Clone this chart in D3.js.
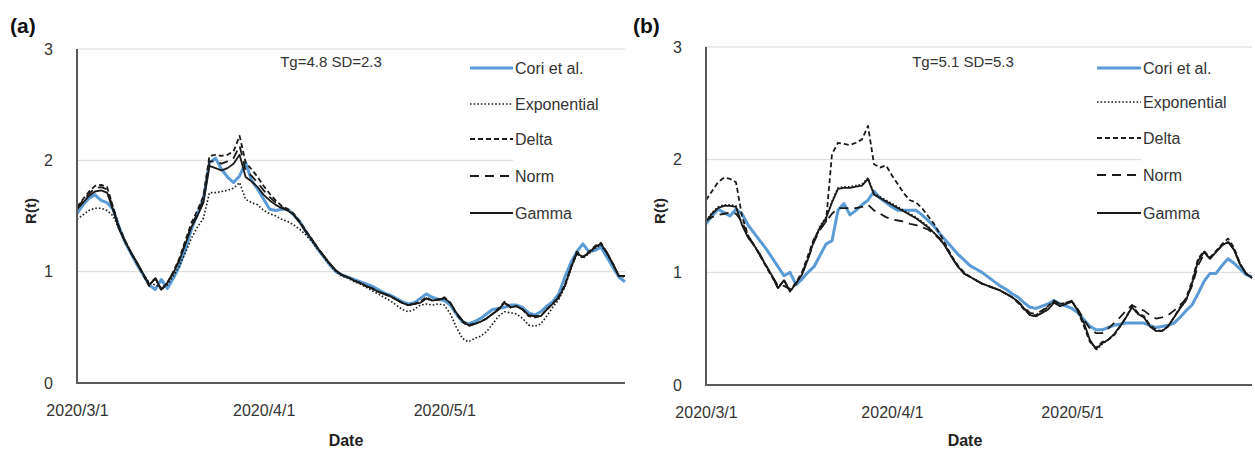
<!DOCTYPE html>
<html><head><meta charset="utf-8">
<script src="https://cdn.jsdelivr.net/npm/d3@7"></script>
<style>
html,body{margin:0;padding:0;background:#fff;}
svg{display:block;font-family:"Liberation Sans",Arial,sans-serif;}
</style></head>
<body><svg id="chart" width="1255" height="450"></svg>
<script>
// ---------- DATA ----------
const startDate = "2020-03-01";
const nDays = 92;
const xTickDates = ["2020-03-01", "2020-04-01", "2020-05-01"];
const xTickLabels = ["2020/3/1", "2020/4/1", "2020/5/1"];
const yTicks = [0, 1, 2, 3];
const seriesNames = ["Cori et al.", "Exponential", "Delta", "Norm", "Gamma"];
const panelLabels = ["(a)", "(b)"];
const panelNotes = ["Tg=4.8 SD=2.3", "Tg=5.1 SD=5.3"];

// Panel (a)
const coriA = [1.52,1.60,1.66,1.69,1.64,1.62,1.56,1.40,1.26,1.16,1.06,0.97,0.88,0.84,0.93,0.85,0.94,1.05,1.20,1.38,1.52,1.66,1.98,2.02,1.92,1.85,1.80,1.86,1.98,1.82,1.74,1.65,1.56,1.55,1.56,1.56,1.51,1.45,1.36,1.28,1.20,1.13,1.06,1.00,0.97,0.95,0.93,0.91,0.89,0.87,0.84,0.81,0.79,0.76,0.73,0.71,0.72,0.76,0.80,0.77,0.75,0.74,0.70,0.62,0.55,0.53,0.55,0.58,0.62,0.66,0.67,0.68,0.70,0.70,0.68,0.63,0.61,0.64,0.69,0.73,0.80,0.95,1.08,1.18,1.25,1.18,1.19,1.22,1.13,1.04,0.95,0.91];
const expA  = [1.47,1.51,1.55,1.57,1.57,1.55,1.50,1.38,1.27,1.16,1.07,0.98,0.90,0.88,0.86,0.88,0.96,1.05,1.17,1.30,1.40,1.48,1.71,1.71,1.72,1.73,1.75,1.80,1.65,1.62,1.60,1.55,1.52,1.50,1.47,1.45,1.42,1.38,1.33,1.27,1.20,1.13,1.06,1.00,0.96,0.94,0.91,0.89,0.86,0.83,0.80,0.77,0.74,0.70,0.66,0.64,0.66,0.70,0.71,0.70,0.71,0.70,0.62,0.50,0.40,0.37,0.40,0.42,0.46,0.53,0.60,0.64,0.63,0.62,0.58,0.52,0.51,0.53,0.60,0.68,0.75,0.86,1.02,1.16,1.12,1.16,1.21,1.24,1.16,1.06,0.96,0.95];
const deltaA= [1.58,1.65,1.72,1.77,1.78,1.76,1.58,1.40,1.28,1.17,1.07,0.97,0.87,0.95,0.83,0.90,1.00,1.12,1.28,1.44,1.55,1.68,2.04,2.05,2.04,2.05,2.08,2.22,1.98,1.92,1.85,1.77,1.70,1.64,1.59,1.56,1.52,1.45,1.37,1.29,1.21,1.14,1.07,1.01,0.97,0.95,0.92,0.90,0.87,0.85,0.82,0.80,0.78,0.75,0.72,0.70,0.71,0.73,0.77,0.74,0.75,0.77,0.72,0.62,0.55,0.51,0.53,0.55,0.58,0.62,0.67,0.73,0.68,0.69,0.66,0.60,0.59,0.60,0.66,0.71,0.78,0.88,1.04,1.18,1.13,1.18,1.23,1.26,1.17,1.07,0.96,0.96];
const normA = [1.57,1.64,1.70,1.75,1.76,1.74,1.57,1.39,1.27,1.17,1.07,0.98,0.88,0.94,0.84,0.90,0.99,1.11,1.26,1.42,1.52,1.65,1.99,1.99,1.97,1.99,2.02,2.13,1.91,1.86,1.80,1.73,1.67,1.62,1.58,1.55,1.51,1.44,1.36,1.29,1.21,1.14,1.07,1.01,0.97,0.95,0.92,0.90,0.87,0.85,0.82,0.80,0.78,0.75,0.72,0.70,0.71,0.72,0.76,0.74,0.75,0.76,0.72,0.63,0.56,0.52,0.53,0.55,0.58,0.62,0.66,0.72,0.68,0.69,0.66,0.61,0.60,0.60,0.66,0.71,0.77,0.87,1.03,1.17,1.13,1.17,1.22,1.25,1.17,1.07,0.96,0.96];
const gammaA= [1.56,1.62,1.68,1.72,1.73,1.71,1.55,1.38,1.27,1.17,1.08,0.98,0.88,0.94,0.84,0.90,0.99,1.10,1.25,1.40,1.50,1.62,1.95,1.93,1.91,1.93,1.97,2.05,1.85,1.81,1.76,1.69,1.64,1.60,1.57,1.55,1.51,1.44,1.36,1.29,1.21,1.14,1.07,1.01,0.97,0.95,0.92,0.90,0.87,0.85,0.82,0.80,0.78,0.75,0.72,0.70,0.71,0.72,0.76,0.74,0.75,0.76,0.72,0.63,0.56,0.52,0.53,0.55,0.58,0.62,0.66,0.72,0.68,0.69,0.66,0.61,0.60,0.60,0.66,0.71,0.77,0.87,1.03,1.17,1.13,1.17,1.22,1.25,1.17,1.07,0.96,0.96];

// Panel (b)
const coriB = [1.43,1.50,1.56,1.53,1.50,1.56,1.52,1.42,1.35,1.28,1.21,1.13,1.05,0.97,1.00,0.89,0.94,1.00,1.05,1.15,1.25,1.28,1.55,1.61,1.51,1.55,1.60,1.64,1.72,1.66,1.62,1.58,1.55,1.55,1.55,1.55,1.51,1.46,1.41,1.34,1.28,1.22,1.16,1.11,1.06,1.03,1.00,0.96,0.92,0.88,0.85,0.81,0.78,0.73,0.69,0.68,0.70,0.72,0.75,0.72,0.70,0.68,0.64,0.58,0.52,0.49,0.49,0.51,0.53,0.54,0.55,0.55,0.55,0.55,0.53,0.51,0.52,0.53,0.55,0.60,0.66,0.71,0.81,0.92,0.99,0.99,1.06,1.12,1.08,1.03,0.98,0.96];
const expB  = [1.46,1.53,1.58,1.60,1.60,1.59,1.43,1.31,1.24,1.16,1.06,0.97,0.86,0.93,0.83,0.90,0.98,1.12,1.29,1.41,1.49,1.63,1.75,1.76,1.76,1.77,1.78,1.84,1.70,1.67,1.64,1.61,1.58,1.55,1.52,1.49,1.45,1.41,1.35,1.30,1.22,1.13,1.05,0.99,0.96,0.93,0.90,0.88,0.86,0.84,0.81,0.78,0.74,0.68,0.62,0.61,0.64,0.67,0.73,0.70,0.72,0.74,0.66,0.54,0.39,0.31,0.36,0.40,0.45,0.52,0.60,0.69,0.63,0.60,0.52,0.48,0.48,0.52,0.60,0.68,0.75,0.90,1.10,1.18,1.12,1.18,1.24,1.27,1.20,1.07,0.99,0.95];
const deltaB= [1.64,1.72,1.80,1.84,1.83,1.80,1.50,1.33,1.24,1.15,1.05,0.96,0.86,0.93,0.84,0.91,1.00,1.15,1.30,1.38,1.45,2.05,2.15,2.14,2.13,2.15,2.18,2.30,1.96,1.93,1.95,1.86,1.78,1.70,1.64,1.62,1.57,1.50,1.43,1.34,1.24,1.14,1.06,1.00,0.96,0.93,0.90,0.88,0.86,0.84,0.81,0.78,0.73,0.67,0.62,0.62,0.66,0.70,0.75,0.72,0.73,0.75,0.65,0.52,0.38,0.33,0.38,0.40,0.44,0.52,0.60,0.70,0.64,0.61,0.53,0.49,0.48,0.52,0.60,0.69,0.77,0.92,1.12,1.19,1.13,1.19,1.25,1.30,1.22,1.08,0.99,0.95];
const normB = [1.46,1.49,1.51,1.52,1.53,1.52,1.45,1.33,1.24,1.15,1.06,0.97,0.88,0.88,0.85,0.90,0.99,1.12,1.27,1.38,1.45,1.52,1.57,1.57,1.57,1.57,1.58,1.60,1.55,1.52,1.49,1.47,1.46,1.45,1.43,1.42,1.40,1.38,1.34,1.29,1.22,1.13,1.05,0.99,0.96,0.93,0.90,0.88,0.86,0.84,0.81,0.78,0.74,0.69,0.64,0.63,0.66,0.69,0.74,0.72,0.73,0.74,0.67,0.58,0.50,0.46,0.46,0.50,0.55,0.60,0.66,0.71,0.68,0.66,0.62,0.59,0.60,0.62,0.66,0.71,0.76,0.88,1.06,1.16,1.13,1.18,1.24,1.28,1.20,1.08,0.99,0.95];
const gammaB= [1.45,1.52,1.57,1.59,1.59,1.58,1.42,1.31,1.24,1.16,1.06,0.97,0.86,0.93,0.83,0.90,0.98,1.12,1.28,1.40,1.48,1.62,1.74,1.75,1.75,1.76,1.77,1.83,1.69,1.66,1.63,1.60,1.57,1.54,1.51,1.48,1.44,1.40,1.35,1.30,1.22,1.13,1.05,0.99,0.96,0.93,0.90,0.88,0.86,0.84,0.81,0.78,0.74,0.68,0.62,0.61,0.64,0.67,0.73,0.70,0.72,0.74,0.66,0.55,0.40,0.32,0.37,0.40,0.45,0.52,0.60,0.69,0.63,0.60,0.52,0.48,0.48,0.52,0.60,0.68,0.75,0.90,1.10,1.18,1.12,1.18,1.24,1.27,1.20,1.07,0.99,0.95];

// ---------- DRAW ----------
const parse = d3.timeParse("%Y-%m-%d");
const dates = d3.timeDay.range(parse(startDate), d3.timeDay.offset(parse(startDate), nDays));
const styles = [
  {color:"#5b9bd5", width:3,   dash:null},
  {color:"#1a1a1a", width:1.6, dash:"1.6,2"},
  {color:"#1a1a1a", width:1.8, dash:"5,3"},
  {color:"#1a1a1a", width:1.8, dash:"9,6"},
  {color:"#1a1a1a", width:1.8, dash:null}
];
const panels = [
  {x0:77, x1:625, yTop:49, yBot:383, series:[coriA,expA,deltaA,normA,gammaA],
   labelX:10, rLabelX:30, dateX:346, noteX:331, legLineX:470, legTextX:515, legY:[68,104,139,176,213]},
  {x0:706, x1:1252, yTop:47, yBot:385, series:[coriB,expB,deltaB,normB,gammaB],
   labelX:633, rLabelX:659, dateX:965, noteX:963, legLineX:1097, legTextX:1143, legY:[68,102,138,175,213]}
];
const svg = d3.select("#chart");
const textCol = "#333";

panels.forEach((p, pi) => {
  const x = d3.scaleTime().domain([dates[0], dates[dates.length-1]]).range([p.x0, p.x1]);
  const y = d3.scaleLinear().domain([0, 3]).range([p.yBot, p.yTop]);
  const g = svg.append("g");

  // gridlines
  g.append("g").selectAll("line").data(yTicks.filter(t => t > 0)).join("line")
    .attr("x1", p.x0).attr("x2", p.x1).attr("y1", d => y(d)).attr("y2", d => y(d))
    .attr("stroke", "#d9d9d9").attr("stroke-width", 1);

  // y axis labels
  const yAxis = d3.axisLeft(y).tickValues(yTicks).tickSize(0).tickPadding(24).tickFormat(d3.format("d"));
  const ya = g.append("g").attr("transform", `translate(${p.x0},0)`).call(yAxis);
  ya.select(".domain").remove();
  ya.selectAll("text").attr("font-size", 16).attr("fill", textCol).attr("font-family", "Liberation Sans, Arial, sans-serif");

  // x axis labels
  const xAxis = d3.axisBottom(x).tickValues(xTickDates.map(parse)).tickSize(0).tickPadding(22)
    .tickFormat((d, i) => xTickLabels[i]);
  const xa = g.append("g").attr("transform", `translate(0,${p.yBot})`).call(xAxis);
  xa.select(".domain").remove();
  xa.selectAll("text").attr("font-size", 16).attr("fill", textCol).attr("font-family", "Liberation Sans, Arial, sans-serif");

  // legend background (white box covering gridlines)
  g.append("rect").attr("x", p.legTextX - 2).attr("y", p.yTop + 3).attr("width", p.x1 - p.legTextX + 2)
    .attr("height", 185).attr("fill", "#fff");

  // lines
  const line = d3.line().x((d, i) => x(dates[i])).y(d => y(d));
  p.series.forEach((s, si) => {
    const st = styles[si];
    g.append("path").datum(s).attr("d", line).attr("fill", "none")
      .attr("stroke", st.color).attr("stroke-width", st.width)
      .attr("stroke-dasharray", st.dash).attr("stroke-linejoin", "round");
  });

  // axes lines
  g.append("line").attr("x1", p.x0).attr("x2", p.x0).attr("y1", p.yTop).attr("y2", p.yBot + 1)
    .attr("stroke", "#595959").attr("stroke-width", 2);
  g.append("line").attr("x1", p.x0).attr("x2", p.x1).attr("y1", p.yBot).attr("y2", p.yBot)
    .attr("stroke", "#595959").attr("stroke-width", 2);

  // legend
  seriesNames.forEach((nm, si) => {
    const st = styles[si];
    const ly = p.legY[si];
    g.append("line").attr("x1", p.legLineX).attr("x2", p.legTextX - 2).attr("y1", ly).attr("y2", ly)
      .attr("stroke", st.color).attr("stroke-width", st.width).attr("stroke-dasharray", st.dash);
    g.append("text").attr("x", p.legTextX).attr("y", ly).attr("dy", "0.35em")
      .attr("font-size", 16).attr("fill", textCol).text(nm);
  });

  // annotation
  g.append("text").attr("x", p.noteX).attr("y", 62).attr("dy", "0.35em").attr("text-anchor", "middle")
    .attr("font-size", 15).attr("fill", textCol).text(panelNotes[pi]);

  // panel label
  g.append("text").attr("x", p.labelX).attr("y", 33).attr("font-size", 21).attr("font-weight", "bold")
    .attr("fill", "#111").text(panelLabels[pi]);

  // axis titles
  g.append("text").attr("transform", `translate(${p.rLabelX + 6},${(p.yTop + p.yBot) / 2 - 5}) rotate(-90)`)
    .attr("text-anchor", "middle").attr("font-size", 15).attr("font-weight", "bold").attr("fill", "#222").text("R(t)");
  g.append("text").attr("x", p.dateX).attr("y", 446).attr("text-anchor", "middle")
    .attr("font-size", 16).attr("font-weight", "bold").attr("fill", "#222").text("Date");
});
</script></body></html>
